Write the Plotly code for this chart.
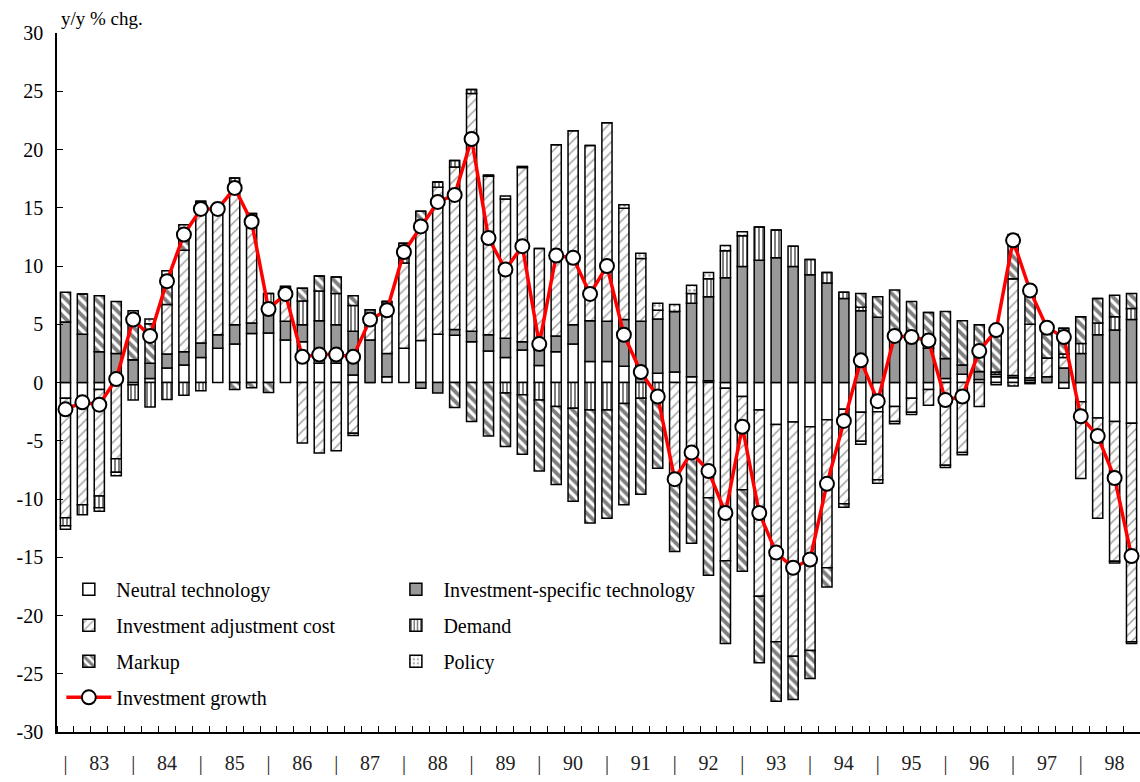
import plotly.graph_objects as go

# ---------------- data (y/y % chg., quarterly 1983Q1-1998Q4) ----------------
years = [str(y) for y in range(83, 99)]
quarters = list(range(64))

neutral = [-1.35, -1.3, -0.6, -0.2, -0.2, 0.35, 1.25, 1.5,
           2.15, 2.95, 3.3, 4.2, 4.25, 3.65, 3.5, 1.65,
           1.65, 0.65, 0, 0.5, 2.95, 3.6, 4.15, 4.05,
           3.5, 2.7, 2.15, 2.8, 1.45, 2.65, 3.3, 1.8,
           1.8, 1.4, 0, 0.8, 0.9, 0.5, 0.15, -0.5,
           -1.2, -2.35, -3.6, -3.4, -3.8, -3.2, -2.3, -2.55,
           -2.5, -2.05, -1.35, -0.6, 0.35, 0.7, 0.25, 0.5,
           0.4, 0.2, 0, -0.5, -1.65, -3.05, -3.35, -3.5]

inv_specific = [5.2, 4.15, 2.65, 2.5, 1.95, 1.3, 1.2, 1.15,
                1.25, 1.15, 1.65, 0.9, 1.6, 1.6, 1.45, 3.65,
                3.3, 3.75, 3.65, 2.0, 0, -0.5, -0.9, 0.5,
                0.9, 1.4, 1.65, 0.7, 1.35, 1.35, 1.65, 3.5,
                3.45, 4.0, 5.25, 4.65, 5.2, 6.3, 7.2, 9.0,
                9.95, 10.5, 10.7, 9.95, 9.25, 8.55, 7.2, 6.15,
                5.6, 4.2, 3.8, 2.95, 1.7, 0.8, 0.7, 0.2,
                0.2, 0.2, 0.5, 1.25, 2.5, 4.1, 4.5, 5.4]

adj_cost = [-10.25, -9.2, -9.15, -6.35, 0, 0, 4.25, 8.7,
            11.7, 11.0, 11.85, 8.85, 1.0, 2.3, -5.2, -6.05,
            -5.85, -4.35, 1.6, 3.85, 7.3, 9.65, 12.6, 13.95,
            20.4, 13.6, 11.95, 14.95, 8.7, 16.4, 16.65, 15.05,
            17.05, 9.55, 5.4, 0.75, -8.2, -6.0, -9.9, -14.8,
            -8.0, -16.0, -18.65, -20.1, -19.2, -12.7, -8.1, -2.5,
            -5.85, -1.3, -1.2, -1.35, -7.1, -6.0, -2.05, 0,
            8.3, 4.6, 1.6, 0.9, -6.6, -8.6, -12.0, -18.75]

demand = [-0.7, -0.85, -1.0, -1.15, -1.3, -2.1, -1.45, -1.1,
          -0.7, 0, 0.75, 0.55, 0.8, 0.7, 2.05, 2.55,
          2.7, 2.2, 0.5, 0.6, 0.45, 0.6, 0.45, 0.55,
          0.35, 0.1, -0.9, -1.05, -1.5, -2.05, -2.2, -2.35,
          -2.35, -1.8, -1.35, -1.3, 0, 0.85, 1.55, 2.3,
          2.65, 2.85, 2.4, 1.75, 1.3, 0.9, 0.55, 0.3,
          0, 0, 0.25, 0.3, 0, 0, 0, 0.2,
          0, 0, 0, 0.3, 0.85, 1.0, 1.15, 0.95]

markup = [2.55, 3.45, 4.8, 4.45, 3.85, 3.4, 2.5, 1.7,
          0.45, 0.1, -0.6, -0.45, -0.85, 0, 1.1, 1.3,
          1.4, 0.85, 0.5, 0, 1.25, 0.85, 0, -2.15,
          -3.35, -4.6, -4.6, -5.1, -6.1, -6.7, -8.0, -9.7,
          -9.3, -8.7, -8.25, -6.05, -6.3, -7.8, -6.65, -7.1,
          -7.0, -5.7, -5.1, -3.7, -2.4, -1.65, -0.3, 1.2,
          1.75, 3.75, 2.9, 2.75, 4.05, 3.8, 4.0, 3.6,
          3.8, 3.2, 2.9, 2.2, 2.3, 2.1, 1.85, 1.3]

policy = [-0.3, 0, -0.3, -0.3, 0.35, 0.4, 0.4, 0.5,
          0, 0, 0, 0, 0, 0, 0, 0,
          0, -0.2, 0, 0, 0, 0, 0, 0,
          0, 0, 0.25, 0.1, 0, 0, 0, 0,
          0, 0.3, 0.45, 0.6, 0.6, 0.7, 0.55, 0.45,
          0.35, 0, 0, 0, 0, 0, 0, -0.25,
          -0.3, -0.2, -0.2, 0, -0.2, -0.2, 0, -0.2,
          -0.3, -0.1, 0, 0, 0, 0, -0.15, -0.15]

inv_growth = [-2.3, -1.7, -1.9, 0.3, 5.4, 4.0, 8.7, 12.7,
              14.9, 14.9, 16.7, 13.8, 6.3, 7.6, 2.2, 2.4,
              2.4, 2.2, 5.4, 6.2, 11.2, 13.4, 15.5, 16.1,
              20.9, 12.4, 9.7, 11.7, 3.3, 10.9, 10.7, 7.6,
              10.0, 4.1, 0.9, -1.2, -8.3, -6.0, -7.6, -11.2,
              -3.8, -11.2, -14.6, -15.9, -15.2, -8.7, -3.3, 1.9,
              -1.6, 4.0, 3.9, 3.6, -1.5, -1.2, 2.7, 4.5,
              12.2, 7.9, 4.7, 3.9, -2.9, -4.6, -8.2, -14.9]

y_ticks = list(range(-30, 31, 5))

# ---------------- figure ----------------
FONT = "Liberation Serif, Times New Roman, serif"

series = [
    ("Neutral technology", neutral, "white", None, "legend"),
    ("Investment-specific technology", inv_specific, "#999999", None, "legend2"),
    ("Investment adjustment cost", adj_cost, "white",
     dict(shape="/", fgcolor="#444444", size=7, solidity=0.22, fillmode="overlay"), "legend"),
    ("Demand", demand, "white",
     dict(shape="|", fgcolor="black", size=4, solidity=0.5, fillmode="overlay"), "legend2"),
    ("Markup", markup, "white",
     dict(shape="\\", fgcolor="black", size=7, solidity=0.55, fillmode="overlay"), "legend"),
    ("Policy", policy, "white",
     dict(shape=".", fgcolor="#555555", size=5, solidity=0.25, fillmode="overlay"), "legend2"),
]

fig = go.Figure()
for i, (name, vals, col, pat, leg) in enumerate(series):
    marker = dict(color=col, line=dict(color="black", width=1.5))
    if pat is not None:
        marker["pattern"] = pat
    fig.add_trace(go.Bar(x=quarters, y=vals, name=name, marker=marker,
                         legend=leg, legendgroup="g%d" % i))

fig.add_trace(go.Scatter(
    x=quarters, y=inv_growth, name="Investment growth", mode="lines+markers",
    line=dict(color="#ff0000", width=3.5),
    marker=dict(size=14, color="white", line=dict(color="black", width=2)),
    legend="legend", legendgroup="g6", cliponaxis=False))

tickvals, ticktext = [], []
for k, yr in enumerate(years):
    tickvals += [4 * k, 4 * k + 2]
    ticktext += ["|", yr]

fig.update_layout(
    width=1140, height=782,
    margin=dict(l=57, r=0, t=33, b=50),
    paper_bgcolor="white", plot_bgcolor="white",
    barmode="relative", bargap=0.4,
    font=dict(family=FONT, size=20, color="black"),
    xaxis=dict(range=[-0.5, 63.5], tickvals=tickvals, ticktext=ticktext,
               ticks="", showline=True, linecolor="black", linewidth=1.5,
               showgrid=False, zeroline=False, ticklabelstandoff=12,
               tickfont=dict(family=FONT, size=20, color="#222222"),
               minor=dict(ticks="inside", tick0=0.5, dtick=1, ticklen=6,
                          tickcolor="black", tickwidth=1, showgrid=False)),
    yaxis=dict(range=[-30, 30], tickvals=y_ticks,
               ticktext=[str(v) for v in y_ticks],
               ticks="inside", ticklen=6, tickcolor="black",
               showline=True, linecolor="black", linewidth=1.5,
               showgrid=False, zeroline=False, ticklabelstandoff=8,
               tickfont=dict(family=FONT, size=20, color="black")),
    legend=dict(x=0.004, y=0.232, xanchor="left", yanchor="top",
                bgcolor="rgba(0,0,0,0)", font=dict(family=FONT, size=20),
                tracegroupgap=7, itemwidth=45, traceorder="grouped"),
    legend2=dict(x=0.306, y=0.232, xanchor="left", yanchor="top",
                 bgcolor="rgba(0,0,0,0)", font=dict(family=FONT, size=20),
                 tracegroupgap=7, itemwidth=45, traceorder="grouped"),
    annotations=[dict(text="y/y % chg.", xref="paper", yref="paper",
                      x=0.002, y=1.0, xanchor="left", yanchor="bottom",
                      yshift=2, showarrow=False, font=dict(family=FONT, size=19))],
)

fig.write_html("out.html", config={"displayModeBar": False},
               post_script="document.body.style.margin='0';")
